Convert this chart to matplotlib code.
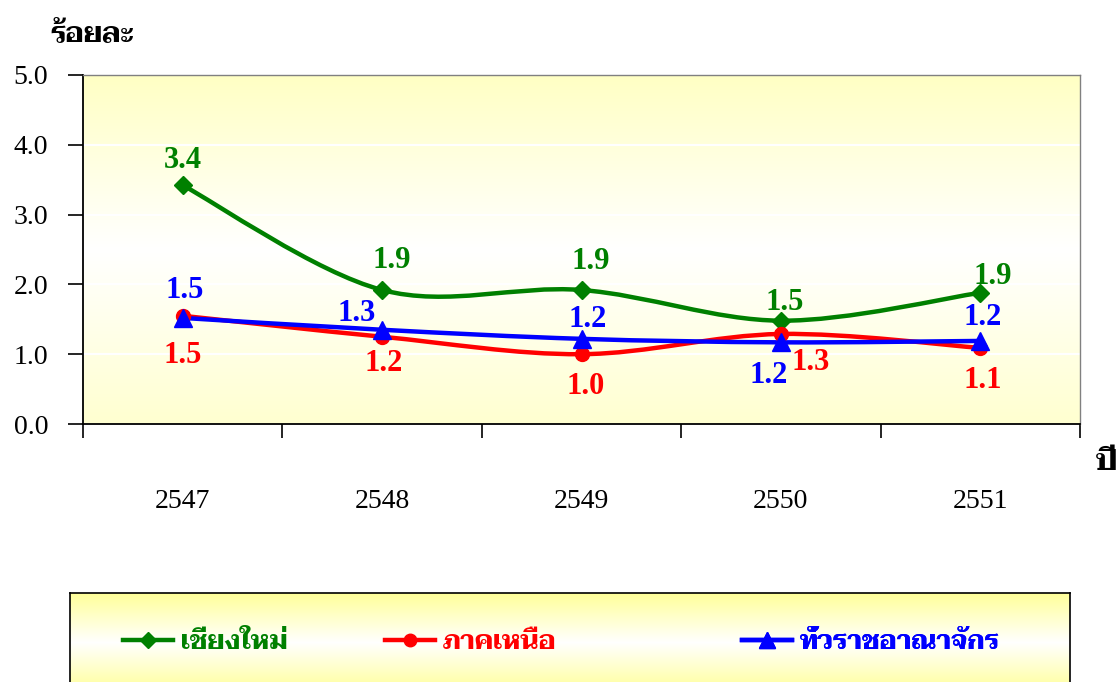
import matplotlib
matplotlib.use("Agg")
import matplotlib.pyplot as plt
import numpy as np
from matplotlib.path import Path
from matplotlib.patches import PathPatch
from matplotlib.colors import LinearSegmentedColormap
from matplotlib.lines import Line2D

# data
years = ["2547", "2548", "2549", "2550", "2551"]
chiangmai = [3.42, 1.92, 1.92, 1.48, 1.88]
north = [1.55, 1.25, 1.00, 1.29, 1.09]
kingdom = [1.52, 1.35, 1.22, 1.17, 1.19]
chiangmai_lbl = ["3.4", "1.9", "1.9", "1.5", "1.9"]
north_lbl = ["1.5", "1.2", "1.0", "1.3", "1.1"]
kingdom_lbl = ["1.5", "1.3", "1.2", "1.2", "1.2"]
series_names = ["เชียงใหม่", "ภาคเหนือ", "ทั่วราชอาณาจักร"]

thai = ["Taviraj", "Liberation Serif"]
serif = ["Liberation Serif", "DejaVu Serif"]


def smooth_path(xs, ys):
    # excel style smoothed line as cubic bezier
    p = np.column_stack([xs, ys]).astype(float)
    n = len(p)
    verts = [p[0]]
    codes = [Path.MOVETO]
    for i in range(n - 1):
        p0 = p[i - 1] if i > 0 else p[i]
        p3 = p[i + 2] if i + 2 < n else p[i + 1]
        c1 = p[i] + (p[i + 1] - p0) / 6.0
        c2 = p[i + 1] - (p3 - p[i]) / 6.0
        verts += [c1, c2, p[i + 1]]
        codes += [Path.CURVE4] * 3
    return Path(verts, codes)


W, H = 1120, 682
fig = plt.figure(figsize=(W / 100, H / 100), dpi=100)
ax = fig.add_axes([83 / W, 1 - 424 / H, (1080 - 83) / W, (424 - 75) / H])

# gradient background
grad = LinearSegmentedColormap.from_list("g", ["#FFFFC4", "#FFFFFF", "#FFFFD0"])
ax.imshow(np.linspace(0, 1, 256).reshape(-1, 1), cmap=grad, aspect="auto",
          extent=[0, 1, 0, 1], transform=ax.transAxes, zorder=0)

x = np.arange(len(years))
colors = ["#008000", "#FF0000", "#0000FF"]
markers = ["D", "o", "^"]
msizes = [9, 10, 12.5]
vals = [chiangmai, north, kingdom]
lbls = [chiangmai_lbl, north_lbl, kingdom_lbl]

# label offsets in pixels (dx, dy)
offsets = [
    [(0, 28), (10, 33), (9, 32), (4, 22), (12, 20)],
    [(0, -36), (2, -23), (4, -29), (30, -25), (2, -29)],
    [(2, 31), (-25, 20), (6, 23), (-12, -30), (2, 27)],
]

for k in range(3):
    ax.add_patch(PathPatch(smooth_path(x, vals[k]), fill=False, edgecolor=colors[k],
                           lw=3.2, zorder=3, capstyle="round", joinstyle="round"))
    ax.plot(x, vals[k], linestyle="none", marker=markers[k], ms=msizes[k],
            color=colors[k], zorder=4, clip_on=False)
    for i in range(len(x)):
        dx, dy = offsets[k][i]
        ax.annotate(lbls[k][i], (x[i], vals[k][i]), xytext=(dx * 0.72, dy * 0.72),
                    textcoords="offset points", ha="center", va="center_baseline",
                    fontsize=22, fontweight="bold", color=colors[k], family=serif,
                    zorder=5)

ax.set_xlim(-0.5, 4.5)
ax.set_ylim(0, 5)
ax.set_yticks(np.arange(0, 5.1, 1))
ax.set_yticklabels(["%.1f" % v for v in np.arange(0, 5.1, 1)], family=serif, fontsize=20)
ax.tick_params(axis="y", length=11, width=1.2, color="black", pad=14)
for v in range(1, 5):
    ax.axhline(v, color="white", lw=1.5, zorder=1)

ax.set_xticks(np.arange(-0.5, 4.6, 1))
ax.set_xticklabels([])
ax.tick_params(axis="x", which="major", length=10, width=1.2, color="black")
ax.set_xticks(x, minor=True)
ax.set_xticklabels(years, minor=True, family=serif, fontsize=20)
ax.tick_params(axis="x", which="minor", length=0, pad=47)

for s in ["left", "bottom"]:
    ax.spines[s].set_color("black")
    ax.spines[s].set_linewidth(1.3)
for s in ["top", "right"]:
    ax.spines[s].set_color("#808080")
    ax.spines[s].set_linewidth(1.0)

fig.text(50 / W, 1 - 35 / H, "ร้อยละ", family=thai, fontsize=20.5, fontweight="bold",
         ha="left", va="center")
fig.text(1096 / W, 1 - 463 / H, "ปี", family=thai, fontsize=22, fontweight="bold",
         ha="left", va="center")

# legend box
lax = fig.add_axes([70 / W, -10 / H, 1000 / W, (682 - 593 + 10) / H])
lgrad = LinearSegmentedColormap.from_list("lg", ["#FFFF99", "#FFFFFF", "#FFFF99"])
lax.imshow(np.linspace(0, 1, 256).reshape(-1, 1), cmap=lgrad, aspect="auto",
           extent=[0, 1, 0, 1], transform=lax.transAxes, zorder=0)
lax.set_xlim(0, 1)
lax.set_ylim(0, 1)
lax.set_xticks([])
lax.set_yticks([])
for s in lax.spines.values():
    s.set_color("black")
    s.set_linewidth(1.2)

# one legend per entry, starting at the handle's left edge (px from figure left)
entry_x = [123, 385, 742]
for k in range(3):
    h = Line2D([], [], color=colors[k], lw=3.2, marker=markers[k], ms=msizes[k] - 1)
    leg = lax.legend([h], [series_names[k]], loc="center left",
                     bbox_to_anchor=((entry_x[k] - 70) / 1000.0, 0.5),
                     bbox_transform=lax.transAxes, frameon=False, borderpad=0,
                     borderaxespad=0, handlelength=1.9, handletextpad=0.3,
                     prop={"family": thai, "size": 19, "weight": "bold"})
    leg.get_texts()[0].set_color(colors[k])
    lax.add_artist(leg)

fig.savefig("out.png", dpi=100)
